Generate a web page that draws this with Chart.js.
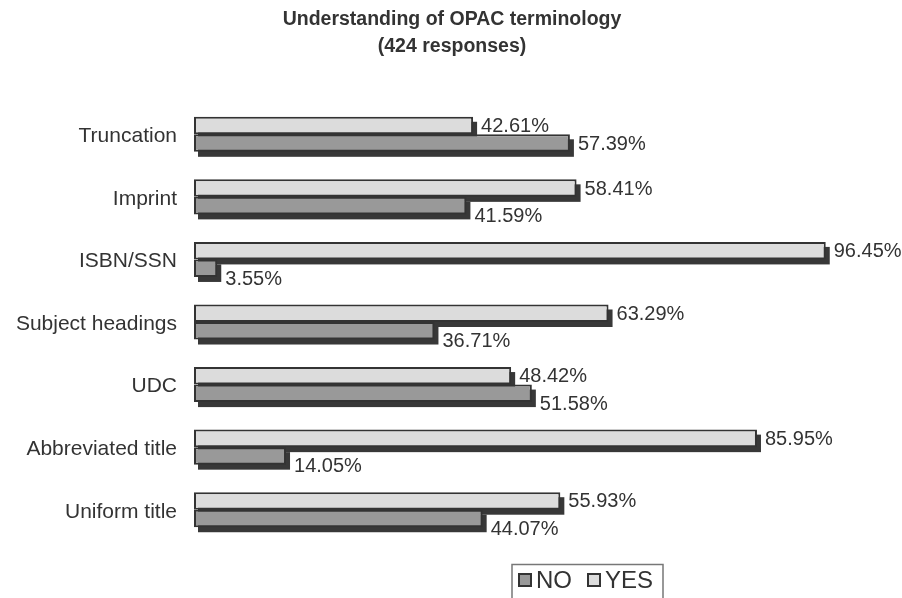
<!DOCTYPE html>
<html>
<head>
<meta charset="utf-8">
<script src="https://cdn.jsdelivr.net/npm/chart.js@4"></script>
<style>
  body { margin: 0; background: #fff; }
  #wrap { width: 902px; height: 598px; }
</style>
</head>
<body>
<div id="wrap"><canvas id="opacChart"></canvas></div>
<script>
const categories = ['Truncation', 'Imprint', 'ISBN/SSN', 'Subject headings', 'UDC', 'Abbreviated title', 'Uniform title'];
const yesValues = [42.61, 58.41, 96.45, 63.29, 48.42, 85.95, 55.93];
const noValues = [57.39, 41.59, 3.55, 36.71, 51.58, 14.05, 44.07];
const titleLines = ['Understanding of OPAC terminology', '(424 responses)'];

const FONT = '"Liberation Sans", Arial, sans-serif';
const TEXT = '#333333';

// dark offset shadow behind every bar
const shadowPlugin = {
    id: 'barShadow',
    beforeDatasetsDraw(chart) {
        const ctx = chart.ctx;
        ctx.save();
        ctx.fillStyle = '#383838';
        chart.data.datasets.forEach((ds, i) => {
            chart.getDatasetMeta(i).data.forEach(bar => {
                const h = bar.height;
                ctx.fillRect(bar.base + 4, bar.y - h / 2 + 5, bar.x - bar.base, h);
            });
        });
        ctx.restore();
    }
};

// title, value labels, legend box
const labelPlugin = {
    id: 'valueLabels',
    afterDatasetsDraw(chart) {
        const ctx = chart.ctx;
        ctx.save();
        ctx.fillStyle = TEXT;
        ctx.textBaseline = 'middle';

        ctx.textAlign = 'center';
        ctx.font = 'bold 19.5px ' + FONT;
        ctx.fillText(titleLines[0], 452, 20);
        ctx.fillText(titleLines[1], 452, 47);

        ctx.textAlign = 'left';
        ctx.font = '20px ' + FONT;
        const yesMeta = chart.getDatasetMeta(0).data;
        const noMeta = chart.getDatasetMeta(1).data;
        yesMeta.forEach((bar, i) => {
            const yesText = yesValues[i].toFixed(2) + '%';
            const yesX = bar.x + 8;
            ctx.fillText(yesText, yesX, bar.y + 1);
            const yesEnd = yesX + ctx.measureText(yesText).width;
            const nb = noMeta[i];
            const noX = nb.x + 8;
            let noY = nb.y + 1;
            if (noX < yesEnd) noY += 10;
            ctx.fillText(noValues[i].toFixed(2) + '%', noX, noY);
        });

        // legend
        ctx.strokeStyle = '#777';
        ctx.lineWidth = 1.5;
        ctx.beginPath();
        ctx.moveTo(512, 600);
        ctx.lineTo(512, 564.5);
        ctx.lineTo(663, 564.5);
        ctx.lineTo(663, 600);
        ctx.stroke();
        const items = [['NO', '#999999', 518], ['YES', '#dcdcdc', 587]];
        ctx.font = '24px ' + FONT;
        items.forEach(([t, c, x]) => {
            ctx.fillStyle = c;
            ctx.fillRect(x, 573, 14, 14);
            ctx.strokeStyle = '#333';
            ctx.lineWidth = 2;
            ctx.strokeRect(x + 1, 574, 12, 12);
            ctx.fillStyle = TEXT;
            ctx.fillText(t, x + 18, 581);
        });
        ctx.restore();
    }
};

new Chart(document.getElementById('opacChart'), {
    type: 'bar',
    data: {
        labels: categories,
        datasets: [
            {
                label: 'YES',
                data: yesValues,
                backgroundColor: '#dcdcdc',
                borderColor: '#333333',
                borderWidth: 2,
                borderSkipped: false
            },
            {
                label: 'NO',
                data: noValues,
                backgroundColor: '#999999',
                borderColor: '#333333',
                borderWidth: 2,
                borderSkipped: false
            }
        ]
    },
    options: {
        indexAxis: 'y',
        responsive: true,
        maintainAspectRatio: false,
        animation: false,
        categoryPercentage: 0.56,
        barPercentage: 1,
        layout: { padding: { left: 0, right: 53, top: 103, bottom: 57 } },
        scales: {
            x: { display: false, min: 0, max: 100 },
            y: {
                grid: { display: false },
                border: { display: false },
                ticks: { color: TEXT, font: { family: FONT, size: 21 }, padding: 9, labelOffset: 2 },
                afterFit: s => { s.width = 194; }
            }
        },
        plugins: {
            legend: { display: false },
            tooltip: { enabled: false },
            title: { display: false }
        }
    },
    plugins: [shadowPlugin, labelPlugin]
});
</script>
</body>
</html>
